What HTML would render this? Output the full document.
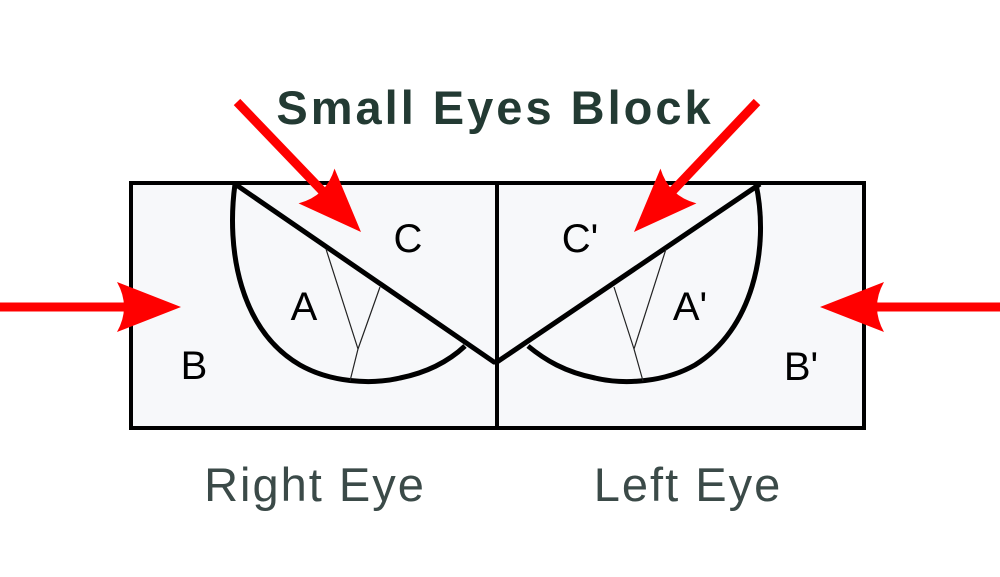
<!DOCTYPE html>
<html><head><meta charset="utf-8"><style>
html,body{margin:0;padding:0;background:#fff;width:1000px;height:577px;overflow:hidden}
</style></head><body>
<svg width="1000" height="577" viewBox="0 0 1000 577" xmlns="http://www.w3.org/2000/svg">
<defs>
<path id="ah" d="M0,0 L-64,-25 Q-50,0 -64,25 Z" fill="#ff0000"/>
</defs>
<rect x="131" y="183" width="733" height="245" fill="#f7f8fa" stroke="#000" stroke-width="4"/>
<line x1="497" y1="183" x2="497" y2="428" stroke="#000" stroke-width="4"/>
<path d="M235,184 C226,250 240,330 300,365 C330,382 370,385 400,378 C430,372 450,360 465,346" fill="none" stroke="#000" stroke-width="5"/>
<polyline points="235,184 494,362 497,362 760,184" fill="none" stroke="#000" stroke-width="5"/>
<path d="M326,249 L358,349 L350,381 M380,287 L358,349" fill="none" stroke="#222" stroke-width="1.2"/>
<path d="M756,184 C770,250 752,330 695,365 C665,382 625,385 595,378 C565,372 545,360 528,346" fill="none" stroke="#000" stroke-width="5"/>
<path d="M666,249 L634,349 L643,381 M614,287 L634,349" fill="none" stroke="#222" stroke-width="1.2"/>
<g stroke="#ff0000" stroke-width="9" fill="none">
<line x1="237" y1="102" x2="330" y2="199"/>
<line x1="757" y1="102" x2="665" y2="199"/>
<line x1="0" y1="307" x2="130" y2="307"/>
<line x1="1000" y1="307" x2="870" y2="307"/>
</g>
<use href="#ah" transform="translate(361,232) rotate(46)"/>
<use href="#ah" transform="translate(634,232) rotate(134)"/>
<use href="#ah" transform="translate(181,307)"/>
<use href="#ah" transform="translate(820,307) rotate(180)"/>
<g font-family="Liberation Sans, sans-serif" font-size="40" fill="#000" text-anchor="middle">
<text x="408" y="252">C</text>
<text x="304" y="320">A</text>
<text x="194" y="379">B</text>
<text x="580" y="252">C'</text>
<text x="690" y="320">A'</text>
<text x="801" y="380">B'</text>
</g>
<text x="495" y="124" font-family="Liberation Sans, sans-serif" font-weight="bold" font-size="47" letter-spacing="3" fill="#233a33" text-anchor="middle">Small Eyes Block</text>
<g font-family="Liberation Sans, sans-serif" font-size="47" letter-spacing="2" fill="#3b4a48" text-anchor="middle">
<text x="315" y="501">Right Eye</text>
<text x="688" y="501">Left Eye</text>
</g>
</svg>
</body></html>
